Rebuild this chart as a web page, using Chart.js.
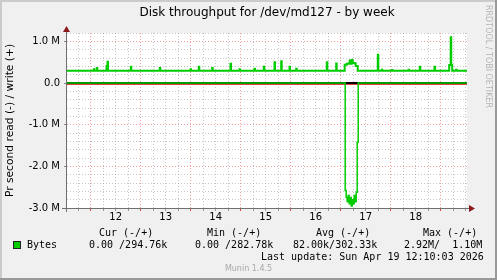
<!DOCTYPE html>
<html>
<head>
<meta charset="utf-8">
<script src="https://cdn.jsdelivr.net/npm/chart.js@4.4.1/dist/chart.umd.min.js"></script>
<style>
    html, body { margin: 0; padding: 0; background: #f0f0f0; }
    #wrap { position: relative; width: 497px; height: 280px; overflow: hidden; }
    #chart { position: absolute; left: 0; top: 0; }
    .txt { position: absolute; font-family: "DejaVu Sans Mono", monospace; font-size: 10px; line-height: 12px; color: #000; white-space: pre; }
    .swatch { position: absolute; left: 13px; top: 241px; width: 8px; height: 8px; box-sizing: border-box; background: #00cc00; border: 1px solid #222; }
    .munin { position: absolute; left: 0; width: 497px; top: 264px; text-align: center; font-family: "DejaVu Sans", sans-serif; font-size: 8px; line-height: 10px; color: #a8a8a8; }
    .rrd { position: absolute; left: 483px; top: 5px; writing-mode: vertical-rl; font-family: "DejaVu Sans", sans-serif; font-size: 8px; line-height: 10px; color: #b4b4b4; white-space: nowrap; }
</style>
</head>
<body>
<div id="wrap">
    <canvas id="chart" width="497" height="280"></canvas>
    <div class="txt" style="left:99px; top:227px">Cur (-/+)</div>
    <div class="txt" style="left:207px; top:227px">Min (-/+)</div>
    <div class="txt" style="left:316px; top:227px">Avg (-/+)</div>
    <div class="txt" style="left:423px; top:227px">Max (-/+)</div>
    <div class="swatch"></div>
    <div class="txt" style="left:27px; top:239px">Bytes</div>
    <div class="txt" style="left:89px; top:239px">0.00 /294.76k</div>
    <div class="txt" style="left:195px; top:239px">0.00 /282.78k</div>
    <div class="txt" style="left:293px; top:239px">82.00k/302.33k</div>
    <div class="txt" style="left:404px; top:239px">2.92M/  1.10M</div>
    <div class="txt" style="left:261px; top:251px">Last update: Sun Apr 19 12:10:03 2026</div>
    <div class="munin">Munin 1.4.5</div>
    <div class="rrd">RRDTOOL / TOBI OETIKER</div>
</div>
<script>
// time in days of April (integer = midnight), values in MB/s
const writeDays = [
    11.526, 12.062, 12.072, 12.122, 12.132, 12.316, 12.336, 12.346, 12.802, 12.812,
    13.382, 13.392, 13.996, 14.006, 14.162, 14.172, 14.43, 14.44, 14.796, 14.806,
    14.976, 14.986, 15.276, 15.286, 15.462, 15.472, 15.676, 15.686, 15.81, 15.82,
    15.976, 15.986, 16.11, 16.12, 16.722, 16.732, 16.91, 16.92,
    17.08, 17.12, 17.16, 17.18, 17.2, 17.22, 17.24, 17.28, 17.3, 17.34,
    17.742, 17.752, 17.822, 17.832, 18.022, 18.032, 18.356, 18.366, 18.582, 18.592,
    18.876, 18.886, 19.17, 19.2, 19.21, 19.23, 19.31, 19.32, 19.526
];
const writeValues = [
    0.295, 0.33, 0.295, 0.36, 0.295, 0.41, 0.51, 0.295, 0.39, 0.295,
    0.36, 0.295, 0.33, 0.295, 0.39, 0.295, 0.36, 0.295, 0.46, 0.295,
    0.33, 0.295, 0.34, 0.295, 0.39, 0.295, 0.50, 0.295, 0.52, 0.295,
    0.39, 0.295, 0.34, 0.295, 0.50, 0.295, 0.47, 0.295,
    0.44, 0.46, 0.47, 0.54, 0.46, 0.55, 0.48, 0.47, 0.41, 0.295,
    0.68, 0.295, 0.32, 0.295, 0.31, 0.295, 0.32, 0.295, 0.39, 0.295,
    0.39, 0.295, 0.43, 1.10, 0.43, 0.295, 0.32, 0.295, 0.295
];
const readDays = [
    11.526, 17.09, 17.11, 17.13, 17.15, 17.17, 17.19, 17.21, 17.23, 17.25,
    17.27, 17.29, 17.31, 17.33, 17.35, 19.526
];
const readValues = [
    0, -2.58, -2.75, -2.85, -2.7, -2.9, -2.75, -2.95, -2.8, -2.9,
    -2.7, -2.85, -2.62, -1.42, 0, 0
];
const dayLabels = [12, 13, 14, 15, 16, 17, 18];
const yLabels = { '1': '1.0 M', '0': '0.0', '-1': '-1.0 M', '-2': '-2.0 M', '-3': '-3.0 M' };

const xMin = 11.526, xMax = 19.526;
const yMin = -3.0, yMax = 1.2;

// grid every 6 hours, every 0.2 M
const xGrid = [];
for (let q = Math.ceil(xMin * 4); q <= Math.floor(xMax * 4); q++) xGrid.push(q / 4);
const yGrid = [];
for (let q = Math.round(yMin * 5); q <= Math.round(yMax * 5); q++) yGrid.push(q / 5);

const grayGrid = 'rgba(143,143,143,0.5)';
const redGrid = 'rgba(235,60,60,0.5)';

const isWhole = v => Math.abs(v - Math.round(v)) < 1e-6;

const muninFrame = {
    id: 'muninFrame',
    beforeDraw(chart) {
        const { ctx, chartArea: a } = chart;
        ctx.save();
        ctx.fillStyle = '#f0f0f0';
        ctx.fillRect(0, 0, chart.width, chart.height);
        ctx.fillStyle = '#cbcbcb';
        ctx.fillRect(0, 0, chart.width, 2);
        ctx.fillRect(0, 0, 2, chart.height);
        ctx.fillStyle = '#999999';
        ctx.fillRect(0, chart.height - 2, chart.width, 2);
        ctx.fillRect(chart.width - 2, 0, 2, chart.height);
        ctx.fillStyle = '#ffffff';
        ctx.fillRect(a.left, a.top, a.right - a.left, a.bottom - a.top);
        ctx.restore();
    },
    beforeDatasetsDraw(chart) {
        const { ctx, chartArea: a } = chart;
        const y0 = Math.round(chart.scales.y.getPixelForValue(0));
        ctx.save();
        ctx.fillStyle = '#000';
        ctx.fillRect(a.left, y0 - 1, a.right - a.left, 2);
        ctx.fillStyle = '#e04040';
        ctx.fillRect(a.left, y0 + 1, a.right - a.left, 1);
        ctx.restore();
    },
    afterDraw(chart) {
        const { ctx, chartArea: a } = chart;
        ctx.save();
        ctx.fillStyle = '#707070';
        // axes
        ctx.fillRect(a.left - 1, a.top - 3, 1, a.bottom - a.top + 7);
        ctx.fillRect(a.left - 5, a.bottom, a.right - a.left + 9, 1);
        // arrows
        ctx.fillStyle = '#8b1a1a';
        ctx.beginPath();
        ctx.moveTo(a.left - 0.5, a.top - 7);
        ctx.lineTo(a.left - 4, a.top - 1);
        ctx.lineTo(a.left + 3, a.top - 1);
        ctx.closePath();
        ctx.fill();
        ctx.beginPath();
        ctx.moveTo(a.right + 8, a.bottom + 0.5);
        ctx.lineTo(a.right + 2, a.bottom - 3);
        ctx.lineTo(a.right + 2, a.bottom + 4);
        ctx.closePath();
        ctx.fill();
        ctx.restore();
    }
};

const chart = new Chart(document.getElementById('chart'), {
    type: 'line',
    data: {
        datasets: [
            {
                label: 'write',
                data: writeDays.map((d, i) => ({ x: d, y: writeValues[i] })),
                borderColor: '#00cc00',
                borderWidth: 2,
                pointRadius: 0,
                stepped: 'before'
            },
            {
                label: 'read',
                data: readDays.map((d, i) => ({ x: d, y: readValues[i] })),
                borderColor: '#00cc00',
                borderWidth: 1.5,
                pointRadius: 0,
                stepped: 'before'
            }
        ]
    },
    options: {
        responsive: false,
        devicePixelRatio: 1,
        animation: false,
        layout: { padding: { left: 2, right: 30, top: 0, bottom: 0 } },
        plugins: {
            legend: { display: false },
            tooltip: { enabled: false },
            title: {
                display: true,
                fullSize: false,
                text: 'Disk throughput for /dev/md127 - by week',
                color: '#000',
                font: { family: 'DejaVu Sans', size: 12, weight: 'normal' },
                padding: { top: 6, bottom: 12.6 }
            }
        },
        scales: {
            x: {
                type: 'linear',
                min: xMin,
                max: xMax,
                afterBuildTicks: s => { s.ticks = xGrid.map(v => ({ value: v })); },
                afterFit: s => { s.height = 72; },
                border: { display: false, dash: [1, 2] },
                grid: {
                    color: c => isWhole(c.tick.value) ? redGrid : grayGrid,
                    tickColor: c => isWhole(c.tick.value) ? '#e04040' : '#999',
                    tickLength: 3,
                    lineWidth: 1
                },
                ticks: {
                    autoSkip: false,
                    maxRotation: 0,
                    padding: 0,
                    color: '#000',
                    font: { family: 'DejaVu Sans', size: 10 },
                    callback: v => {
                        const d = Math.floor(v);
                        return (Math.abs(v - d - 0.5) < 1e-6 && dayLabels.includes(d)) ? String(d) : '';
                    }
                }
            },
            y: {
                min: yMin,
                max: yMax,
                afterBuildTicks: s => { s.ticks = yGrid.map(v => ({ value: v })); },
                afterFit: s => { s.width = 65; },
                border: { display: false, dash: [1, 2] },
                grid: {
                    color: c => isWhole(c.tick.value) ? redGrid : grayGrid,
                    tickColor: c => isWhole(c.tick.value) ? '#888' : 'rgba(0,0,0,0)',
                    tickLength: 3,
                    lineWidth: 1
                },
                ticks: {
                    autoSkip: false,
                    padding: 4,
                    color: '#000',
                    font: { family: 'DejaVu Sans', size: 10 },
                    callback: v => isWhole(v) ? (yLabels[String(Math.round(v))] || '') : ''
                },
                title: {
                    display: true,
                    text: 'Pr second read (-) / write (+)',
                    color: '#000',
                    font: { family: 'DejaVu Sans', size: 10.7 },
                    padding: { top: 2, bottom: 0 }
                }
            }
        }
    },
    plugins: [muninFrame]
});
</script>
</body>
</html>
